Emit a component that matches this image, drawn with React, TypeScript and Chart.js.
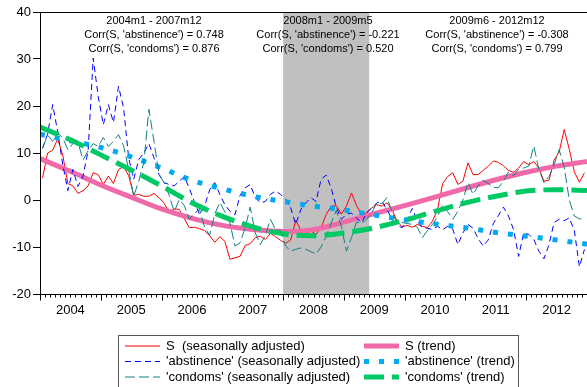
import React, { useEffect, useRef } from "react";
import { Chart, registerables } from "chart.js";
Chart.register(...registerables);

// ---- data ----
const START_YEAR = 2004;
const END_YEAR = 2013;
const YEAR_LABELS = ["2004", "2005", "2006", "2007", "2008", "2009", "2010", "2011", "2012"];

// monthly, 2004m1 .. 2012m12
const S_SA = [
  4.7, 10.0, 10.6, 13.0, 9.5, 3.5, 3.0, 1.4, 2.0, 3.0,
  5.8, 5.4, 3.3, 5.1, 3.5, 6.5, 7.1, 5.2, 1.0, 1.2,
  0.8, 0.8, 1.4, 0.5, -0.7, -2.6, -1.9, -2.0, -4.0, -5.9,
  -5.8, -6.1, -6.5, -7.6, -9.0, -7.8, -8.8, -12.6, -12.3, -12.0,
  -9.7, -9.3, -8.0, -7.7, -8.4, -7.1, -7.8, -8.6, -9.2, -8.5,
  -4.3, -6.4, -7.2, -6.6, -7.3, -5.9, -3.1, -1.3, -1.2, -3.0,
  -1.3, 1.5, -1.2, -3.1, -2.7, -1.7, -1.0, -1.3, -0.6, -2.0,
  -4.5, -5.7, -5.4, -5.8, -5.2, -5.6, -5.9, -4.5, -2.0, 3.5,
  5.0, 5.8, 3.3, 4.0, 7.9, 5.4, 5.4, 6.3, 7.2, 8.3,
  8.0, 7.3, 6.3, 5.9, 6.8, 8.2, 7.5, 8.2, 6.8, 4.0,
  4.2, 8.5, 10.2, 15.0, 10.8, 6.0, 3.8, 5.8,
];
const ABST_SA = [
  11.0, 14.0, 20.3, 14.5, 7.5, 2.0, 6.5, 2.9, 5.1, 10.5,
  30.2, 22.0, 16.0, 20.3, 16.5, 24.2, 19.6, 9.0, 4.4, 8.6,
  10.0, 12.0, 9.0, 5.4, 3.7, 3.3, 3.0, 4.0, 5.0, 2.4,
  -0.4, -3.1, -1.3, 2.2, 3.7, 1.2, -1.0, -2.4, -3.1, 1.0,
  2.6, 3.3, 0.5, -0.6, -0.3, 1.2, 1.9, 1.2, 0.1, -1.7,
  -5.2, -2.0, -0.6, 0.5, -0.3, 4.4, 5.3, 2.5, -1.5, -4.1,
  -3.0, -2.8, -3.8, -4.9, -2.7, -1.7, -0.6, -0.3, -2.0, -4.1,
  -5.3, -5.9, -4.0, -1.8, -4.5, -5.9, -6.0, -6.3, -5.6, -6.3,
  -5.6, -6.2, -9.5, -7.0, -5.2, -6.0, -8.2, -9.8, -8.5, -5.0,
  -3.3, -1.5, -3.4, -6.3, -12.0, -7.0, -7.3, -8.4, -10.9, -12.5,
  -9.5, -4.8, -4.1, -4.4, -3.8, -6.5, -14.2, -10.5,
];
const COND_SA = [
  11.0, 13.8, 12.5, 14.3, 13.2, 10.7, 12.0, 12.3, 8.5, 10.5,
  12.0, 11.4, 13.3, 11.4, 12.5, 13.9, 11.5, 6.5, 0.8, 4.0,
  8.0, 19.3, 12.5, 5.5, 3.7, 1.0, -2.5, 0.1, -1.2, -4.1,
  -2.8, -2.0, -5.8, -7.5, -3.0, -0.5, -2.5, -4.9, -9.8, -9.1,
  -6.0, -1.5, -7.0, -9.5, -7.5, -4.1, -6.3, -6.5, -9.8, -10.9,
  -10.5, -10.2, -10.5, -11.0, -11.5, -10.0, -7.7, -4.9, -2.2, -5.6,
  -10.9, -8.0, -4.7, -5.0, -4.1, -2.7, -0.6, -0.8, 0.5, -2.5,
  -5.0, -4.8, -5.0, -5.2, -5.8, -8.0, -6.5, -5.2, -3.5, -1.0,
  -2.5, -4.1, -2.4, 0.0, 3.7, 1.2, 3.0, 4.2, 3.5, 2.7,
  2.6, 4.0, 6.0, 5.2, 6.5, 6.8, 7.2, 11.5, 6.5, 3.7,
  5.0, 7.5, 10.7, 7.0, 0.0, -3.4, -4.0, -4.0,
];

// trends, read every half year from 2004.0 to 2013.0
const S_TREND = [8.8, 6.1, 3.2, 0.6, -1.9, -3.9, -5.4, -6.3, -6.7, -6.3, -4.7, -2.9, -1.2, 0.6, 2.5, 4.3, 5.9, 7.2, 8.2];
const ABST_TREND = [14.0, 12.6, 11.2, 9.2, 6.8, 4.2, 2.4, 0.8, -0.3, -1.3, -2.1, -3.2, -4.2, -5.1, -5.9, -6.9, -7.7, -8.5, -9.4];
const COND_TREND = [15.5, 12.8, 9.6, 6.4, 3.0, -0.6, -3.5, -5.7, -7.2, -7.6, -7.0, -5.9, -4.3, -2.4, -0.6, 0.8, 1.9, 2.2, 2.0];

const Y_MIN = -20;
const Y_MAX = 40;
const Y_STEP = 10;

// shaded period 2008m1 - 2009m5
const SHADE_FROM = 2008;
const SHADE_TO = 2009 + 5 / 12;

const NOTE_1 = ["2004m1 - 2007m12", "Corr(S, 'abstinence') = 0.748", "Corr(S, 'condoms') = 0.876"];
const NOTE_2 = ["2008m1 - 2009m5", "Corr(S, 'abstinence') = -0.221", "Corr(S, 'condoms') = 0.520"];
const NOTE_3 = ["2009m6 - 2012m12", "Corr(S, 'abstinence') = -0.308", "Corr(S, 'condoms') = 0.799"];

const LEGEND_LABELS = [
  "S  (seasonally adjusted)",
  "S (trend)",
  "'abstinence' (seasonally adjusted)",
  "'abstinence' (trend)",
  "'condoms' (seasonally adjusted)",
  "'condoms' (trend)",
];

// ---- styles ----
const FONT = "'Liberation Sans', Arial, Helvetica, sans-serif";
const STYLES = [
  { color: "#ff0000", width: 1, dash: [] as number[] },
  { color: "#f06aaa", width: 5, dash: [] as number[] },
  { color: "#0000ff", width: 1, dash: [6, 4] },
  { color: "#00aaf0", width: 5, dash: [5, 10] },
  { color: "#108080", width: 1, dash: [10, 4] },
  { color: "#00c864", width: 5, dash: [20, 8] },
];

const monthly = (arr: number[]) => arr.map((v, i) => ({ x: START_YEAR + (i + 0.5) / 12, y: v }));
const halfYearly = (arr: number[]) => arr.map((v, k) => ({ x: START_YEAR + k / 2, y: v }));

const decor = {
  id: "decor",
  beforeDatasetsDraw(chart: any) {
    const { ctx, chartArea: a, scales } = chart;
    const x = scales.x;
    const x0 = x.getPixelForValue(SHADE_FROM);
    const x1 = x.getPixelForValue(SHADE_TO);
    ctx.save();
    ctx.fillStyle = "#c0c0c0";
    ctx.fillRect(x0, a.top, x1 - x0, a.bottom - a.top);
    ctx.restore();
  },
  afterDraw(chart: any) {
    const { ctx, chartArea: a, scales } = chart;
    const x = scales.x;
    ctx.save();
    // frame
    ctx.strokeStyle = "#000";
    ctx.lineWidth = 1;
    ctx.setLineDash([]);
    ctx.strokeRect(Math.round(a.left) + 0.5, Math.round(a.top) + 0.5, Math.round(a.right - a.left), Math.round(a.bottom - a.top));
    // month ticks
    const yb = Math.round(a.bottom) + 0.5;
    ctx.beginPath();
    const nMonths = (END_YEAR - START_YEAR) * 12;
    for (let j = 0; j <= nMonths; j++) {
      const px = Math.round(x.getPixelForValue(START_YEAR + j / 12)) + 0.5;
      const len = j % 12 === 0 ? 6 : 3;
      ctx.moveTo(px, yb);
      ctx.lineTo(px, yb + len);
    }
    ctx.stroke();
    // year labels
    ctx.fillStyle = "#000";
    ctx.font = `13px ${FONT}`;
    ctx.textAlign = "center";
    ctx.textBaseline = "middle";
    YEAR_LABELS.forEach((lab, k) => {
      ctx.fillText(lab, x.getPixelForValue(START_YEAR + k + 0.5), a.bottom + 16);
    });
    // notes
    ctx.font = `11px ${FONT}`;
    const notes: [string[], number][] = [
      [NOTE_1, 154],
      [NOTE_2, 328],
      [NOTE_3, 497],
    ];
    notes.forEach(([lines, cx]) => {
      lines.forEach((t, r) => ctx.fillText(t, cx, a.top + 8.5 + r * 14));
    });
    // legend
    const lx = 118.5, ly = 335.5, lw = 400, lh = 60;
    ctx.strokeStyle = "#555";
    ctx.lineWidth = 1;
    ctx.strokeRect(lx, ly, lw, lh);
    ctx.font = `13px ${FONT}`;
    ctx.textAlign = "left";
    const cols = [125, 364];
    const rows = [346, 361.5, 377];
    LEGEND_LABELS.forEach((lab, i) => {
      const c = i % 2;
      const r = Math.floor(i / 2);
      const s = STYLES[i];
      const sx = cols[c];
      const sy = rows[r];
      ctx.strokeStyle = s.color;
      ctx.lineWidth = s.width;
      ctx.setLineDash(s.dash);
      ctx.beginPath();
      ctx.moveTo(sx, sy);
      ctx.lineTo(sx + 35, sy);
      ctx.stroke();
      ctx.setLineDash([]);
      ctx.fillStyle = "#000";
      ctx.fillText(lab, sx + 41, sy);
    });
    ctx.restore();
  },
};

export default function App() {
  const ref = useRef<HTMLCanvasElement>(null);
  useEffect(() => {
    const canvas = ref.current!;
    const series = [
      monthly(S_SA),
      halfYearly(S_TREND),
      monthly(ABST_SA),
      halfYearly(ABST_TREND),
      monthly(COND_SA),
      halfYearly(COND_TREND),
    ];
    const datasets = series.map((d, i) => ({
      label: LEGEND_LABELS[i],
      data: d,
      borderColor: STYLES[i].color,
      backgroundColor: STYLES[i].color,
      borderWidth: STYLES[i].width,
      borderDash: STYLES[i].dash,
      borderCapStyle: "butt" as const,
      pointRadius: 0,
      fill: false,
      tension: 0,
      cubicInterpolationMode: i % 2 === 1 ? ("monotone" as const) : ("default" as const),
      order: 5 - i,
    }));
    const chart = new Chart(canvas, {
      type: "line",
      data: { datasets },
      options: {
        responsive: false,
        animation: false,
        devicePixelRatio: 1,
        layout: { padding: { top: 12, left: 0, right: 0, bottom: 0 } },
        plugins: { legend: { display: false }, tooltip: { enabled: false } },
        scales: {
          x: {
            type: "linear",
            min: START_YEAR,
            max: END_YEAR,
            ticks: { display: false },
            grid: { display: false, drawTicks: false },
            border: { display: false },
            afterFit: (s: any) => {
              s.height = 93;
            },
          },
          y: {
            min: Y_MIN,
            max: Y_MAX,
            ticks: { stepSize: Y_STEP, color: "#000", font: { family: FONT, size: 13 }, padding: 2 },
            grid: { drawOnChartArea: false, drawTicks: true, tickLength: 7, color: "#000" },
            border: { display: true, color: "#000" },
            afterFit: (s: any) => {
              s.width = 40;
            },
          },
        },
      },
      plugins: [decor],
    } as any);
    return () => chart.destroy();
  }, []);
  return (
    <div style={{ position: "absolute", left: 0, top: 0, width: 587, height: 387, background: "#fff" }}>
      <canvas ref={ref} width={587} height={387} style={{ display: "block" }} />
    </div>
  );
}
